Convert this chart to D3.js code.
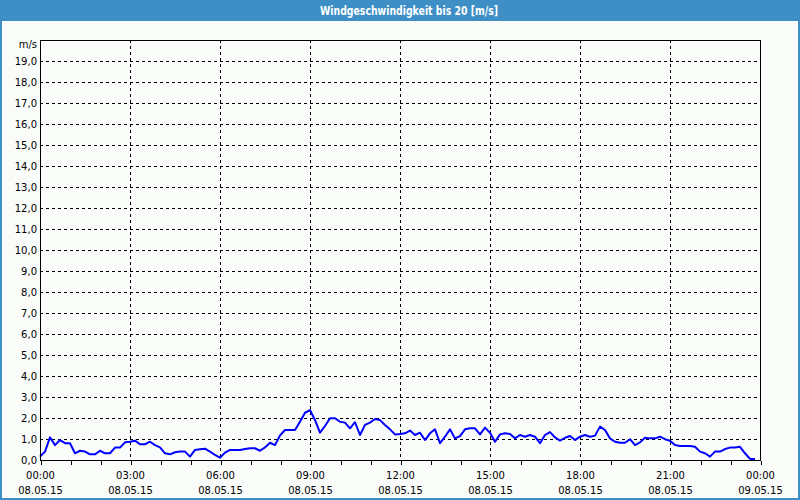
<!DOCTYPE html>
<html><head><meta charset="utf-8">
<script src="https://cdn.jsdelivr.net/npm/d3@7"></script>
<style>html,body{margin:0;padding:0;background:#fafcfa;}svg{display:block;}</style>
</head><body>
<svg id="c" width="800" height="500"></svg>
<script>
const title = "Windgeschwindigkeit bis 20 [m/s]";
const yUnit = "m/s";
const startTime = "2015-05-08T00:00:00";
const endTime = "2015-05-09T00:00:00";
const sampleMinutes = 10;
const yTickValues = [0,1,2,3,4,5,6,7,8,9,10,11,12,13,14,15,16,17,18,19];
const xTickHours = [0,3,6,9,12,15,18,21,24];
const speed = [
0.16,0.40,1.08,0.71,0.95,0.80,0.80,0.32,0.44,0.40,0.27,0.27,0.44,0.32,0.32,0.59,0.59,0.84,0.87,0.92,
0.75,0.75,0.87,0.71,0.60,0.32,0.27,0.37,0.40,0.40,0.16,0.48,0.51,0.54,0.40,0.24,0.11,0.35,0.48,0.48,
0.48,0.52,0.56,0.56,0.44,0.60,0.82,0.71,1.17,1.43,1.43,1.43,1.82,2.25,2.38,1.90,1.30,1.62,1.99,1.99,
1.82,1.78,1.51,1.80,1.19,1.67,1.78,1.95,1.90,1.67,1.46,1.22,1.24,1.27,1.40,1.19,1.30,0.95,1.27,1.46,
0.80,1.11,1.46,1.03,1.14,1.46,1.51,1.51,1.22,1.54,1.30,0.87,1.22,1.27,1.24,1.03,1.19,1.11,1.19,1.11,
0.80,1.19,1.33,1.08,0.92,1.06,1.14,0.95,1.11,1.19,1.11,1.16,1.59,1.43,1.03,0.87,0.82,0.82,0.99,0.71,
0.84,1.06,1.03,1.03,1.11,0.99,0.92,0.71,0.67,0.67,0.67,0.63,0.40,0.32,0.16,0.40,0.40,0.52,0.59,0.59,
0.63,0.32,0.05,0.05
];

const W = 800, H = 500;
const m = {left:40, right:40, top:40, bottom:40};
const svg = d3.select("#c");
const FONT = "DejaVu Sans, Verdana, sans-serif";

svg.append("rect").attr("x",0).attr("y",0).attr("width",W).attr("height",H).attr("fill","#fafcfa");
svg.append("rect").attr("x",0).attr("y",0).attr("width",W).attr("height",21).attr("fill","#3d8fc6");
svg.append("rect").attr("x",1).attr("y",1).attr("width",W-2).attr("height",H-2)
   .attr("fill","none").attr("stroke","#3d8fc6").attr("stroke-width",2);
svg.append("text").attr("x",409).attr("y",15).attr("text-anchor","middle")
   .attr("fill","#fff").attr("font-family",FONT).attr("font-weight","bold").attr("font-size",11.5)
   .attr("textLength",178).attr("lengthAdjust","spacingAndGlyphs")
   .text(title);

const t0 = new Date(startTime), t1 = new Date(endTime);
const x = d3.scaleTime().domain([t0,t1]).range([m.left, W-m.right]);
const y = d3.scaleLinear().domain([0,20]).range([H-m.bottom, m.top]);
const times = speed.map((v,i)=> new Date(t0.getTime() + i*sampleMinutes*60000));
const hourDate = h => new Date(t0.getTime() + h*3600000);

const g = svg.append("g");
g.selectAll("line.hg").data(yTickValues.filter(v=>v>0)).join("line")
  .attr("x1",m.left).attr("x2",W-m.right)
  .attr("y1",d=>y(d)+0.5).attr("y2",d=>y(d)+0.5)
  .attr("stroke","#000").attr("stroke-dasharray","3,3").attr("shape-rendering","crispEdges");
g.selectAll("line.vg").data(xTickHours.filter(h=>h>0&&h<24)).join("line")
  .attr("x1",d=>x(hourDate(d))+0.5).attr("x2",d=>x(hourDate(d))+0.5)
  .attr("y1",m.top).attr("y2",H-m.bottom)
  .attr("stroke","#000").attr("stroke-dasharray","3,3").attr("shape-rendering","crispEdges");

const line = d3.line().x((d,i)=>x(times[i])).y(d=>y(d));
g.append("path").datum(speed).attr("d",line).attr("fill","none")
  .attr("stroke","#0000ff").attr("stroke-width",2).attr("stroke-linejoin","round");

g.append("rect").attr("x",m.left+0.5).attr("y",m.top+0.5)
  .attr("width",W-m.left-m.right).attr("height",H-m.top-m.bottom)
  .attr("fill","none").attr("stroke","#000").attr("shape-rendering","crispEdges");

const xAxis = d3.axisBottom(x).ticks(d3.timeHour.every(1)).tickSize(4).tickFormat("");
const ax = svg.append("g").attr("transform",`translate(0.5,${H-m.bottom+0.5})`).call(xAxis);
ax.select(".domain").remove();
ax.selectAll("line").attr("stroke","#000").attr("shape-rendering","crispEdges");
const fmtT = d3.timeFormat("%H:%M"), fmtD = d3.timeFormat("%d.%m.%y");
const xl = svg.append("g").selectAll("text").data(xTickHours).join("text")
  .attr("x",d=>x(hourDate(d))+0.5).attr("text-anchor","middle")
  .attr("font-family",FONT).attr("font-size",10).attr("fill","#000");
xl.append("tspan").attr("x",d=>x(hourDate(d))+0.5).attr("y",479).text(d=>fmtT(hourDate(d)));
xl.append("tspan").attr("x",d=>x(hourDate(d))+0.5).attr("y",494).text(d=>fmtD(hourDate(d)));

const fmtY = v => d3.format(".1f")(v).replace(".",",");
svg.append("g").selectAll("text").data(yTickValues).join("text")
  .attr("x",37).attr("y",d=>y(d)+4).attr("text-anchor","end")
  .attr("font-family",FONT).attr("font-size",10).attr("fill","#000").text(fmtY);
svg.append("text").attr("x",37).attr("y",y(20)+8).attr("text-anchor","end")
  .attr("font-family",FONT).attr("font-size",10).attr("fill","#000").text(yUnit);
</script>
</body></html>
